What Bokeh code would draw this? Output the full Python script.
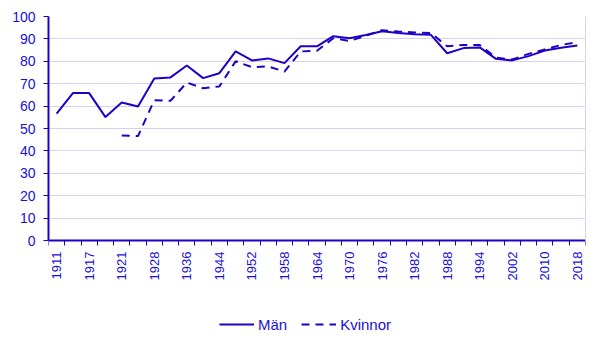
import math
from bokeh.plotting import figure
from bokeh.models import FixedTicker, Range1d, Legend, LegendItem, ColumnDataSource, LinearAxis
from bokeh.embed import file_html
from bokeh.resources import INLINE

years = ["1911", "1914", "1917", "1920", "1921", "1924", "1928", "1932", "1936", "1940",
         "1944", "1948", "1952", "1956", "1958", "1960", "1964", "1968", "1970", "1973",
         "1976", "1979", "1982", "1985", "1988", "1991", "1994", "1998", "2002", "2006",
         "2010", "2014", "2018"]
man = [56.6, 65.8, 65.8, 55.1, 61.6, 59.8, 72.3, 72.8, 78.1, 72.5,
       74.7, 84.4, 80.4, 81.3, 79.2, 86.7, 86.7, 91.2, 90.3, 91.7,
       93.4, 92.6, 92.1, 91.8, 83.6, 85.9, 86.2, 81.1, 80.4, 82.3,
       84.8, 86.0, 87.1]
kvinnor = [None, None, None, None, 46.9, 46.6, 62.6, 62.4, 70.5, 68.0,
           68.8, 80.0, 77.4, 77.7, 75.4, 84.4, 84.7, 90.3, 89.1, 91.4,
           93.9, 93.3, 92.9, 92.6, 86.7, 87.3, 87.3, 81.6, 80.8, 83.3,
           85.3, 87.3, 88.5]
y_ticks = [0, 10, 20, 30, 40, 50, 60, 70, 80, 90, 100]

BLUE = "#1f00c8"
TEXT = "#1a10d8"
GRID = "#d4d2f0"
FONT = "Liberation Sans"

# layout: value axis 0..100 occupies the top 224 px of the frame; the rest holds
# the year labels and the legend
W, H = 600, 345
TOP, LEFT, RIGHT = 16, 48, 15
AXIS_PX = 224
px_per_unit = AXIS_PX / 100.0
y_bottom = -(H - TOP - AXIS_PX) / px_per_unit

n = len(years)
xs = list(range(n))
p = figure(width=W, height=H, output_backend="svg", toolbar_location=None,
           x_range=Range1d(-0.5, n - 0.5), y_range=Range1d(y_bottom, 100),
           x_axis_location=None,
           min_border_left=LEFT, min_border_right=RIGHT, min_border_top=TOP, min_border_bottom=0)
p.outline_line_color = None
p.background_fill_color = "white"
p.border_fill_color = "white"

src_m = ColumnDataSource(dict(x=xs, y=man))
kx = [i for i, v in enumerate(kvinnor) if v is not None]
ky = [v for v in kvinnor if v is not None]
src_k = ColumnDataSource(dict(x=kx, y=ky))
r_m = p.line("x", "y", source=src_m, line_color=BLUE, line_width=2)
r_k = p.line("x", "y", source=src_k, line_color=BLUE, line_width=2, line_dash="8 6")

# x axis drawn at value 0
xax = LinearAxis(fixed_location=0)
xax.ticker = FixedTicker(ticks=[i for i in xs if i % 2 == 0],
                         minor_ticks=[i - 0.5 for i in range(n + 1)])
xax.major_label_overrides = {i: years[i] for i in xs}
xax.major_label_orientation = math.pi / 2
xax.major_tick_out = 0
xax.major_tick_in = 0
xax.minor_tick_out = 5
xax.minor_tick_in = 0
xax.minor_tick_line_color = BLUE
xax.axis_line_color = BLUE
xax.axis_line_width = 2
xax.major_label_text_color = TEXT
xax.major_label_text_font = FONT
xax.major_label_text_font_size = "13px"
xax.major_label_standoff = 6
p.add_layout(xax, "below")

yax = p.yaxis[0]
yax.bounds = (0, 100)
yax.ticker = FixedTicker(ticks=y_ticks)
yax.minor_tick_out = 0
yax.minor_tick_in = 0
yax.major_tick_out = 5
yax.major_tick_in = 0
yax.major_tick_line_color = BLUE
yax.axis_line_color = BLUE
yax.axis_line_width = 2
yax.major_label_text_color = TEXT
yax.major_label_text_font = FONT
yax.major_label_text_font_size = "14px"
yax.major_label_standoff = 8

# light right border of the value area
rax = LinearAxis(bounds=(0, 100), ticker=FixedTicker(ticks=[]))
rax.axis_line_color = GRID
rax.axis_line_width = 1
rax.major_tick_line_color = None
rax.minor_tick_line_color = None
rax.major_label_text_font_size = "0px"
p.add_layout(rax, "right")

p.xgrid.grid_line_color = None
p.ygrid.ticker = FixedTicker(ticks=y_ticks)
p.ygrid.grid_line_color = GRID
p.ygrid.grid_line_width = 1

legend = Legend(items=[LegendItem(label="Män", renderers=[r_m]),
                       LegendItem(label="Kvinnor", renderers=[r_k])],
                orientation="horizontal", location=(171, 11))
legend.border_line_color = None
legend.background_fill_alpha = 0
legend.label_text_font = FONT
legend.label_text_font_size = "15px"
legend.label_text_color = TEXT
legend.glyph_width = 35
legend.label_standoff = 4
legend.spacing = 14
legend.margin = 0
legend.padding = 0
p.add_layout(legend, "center")

open("out.html", "w").write(file_html(p, INLINE))
